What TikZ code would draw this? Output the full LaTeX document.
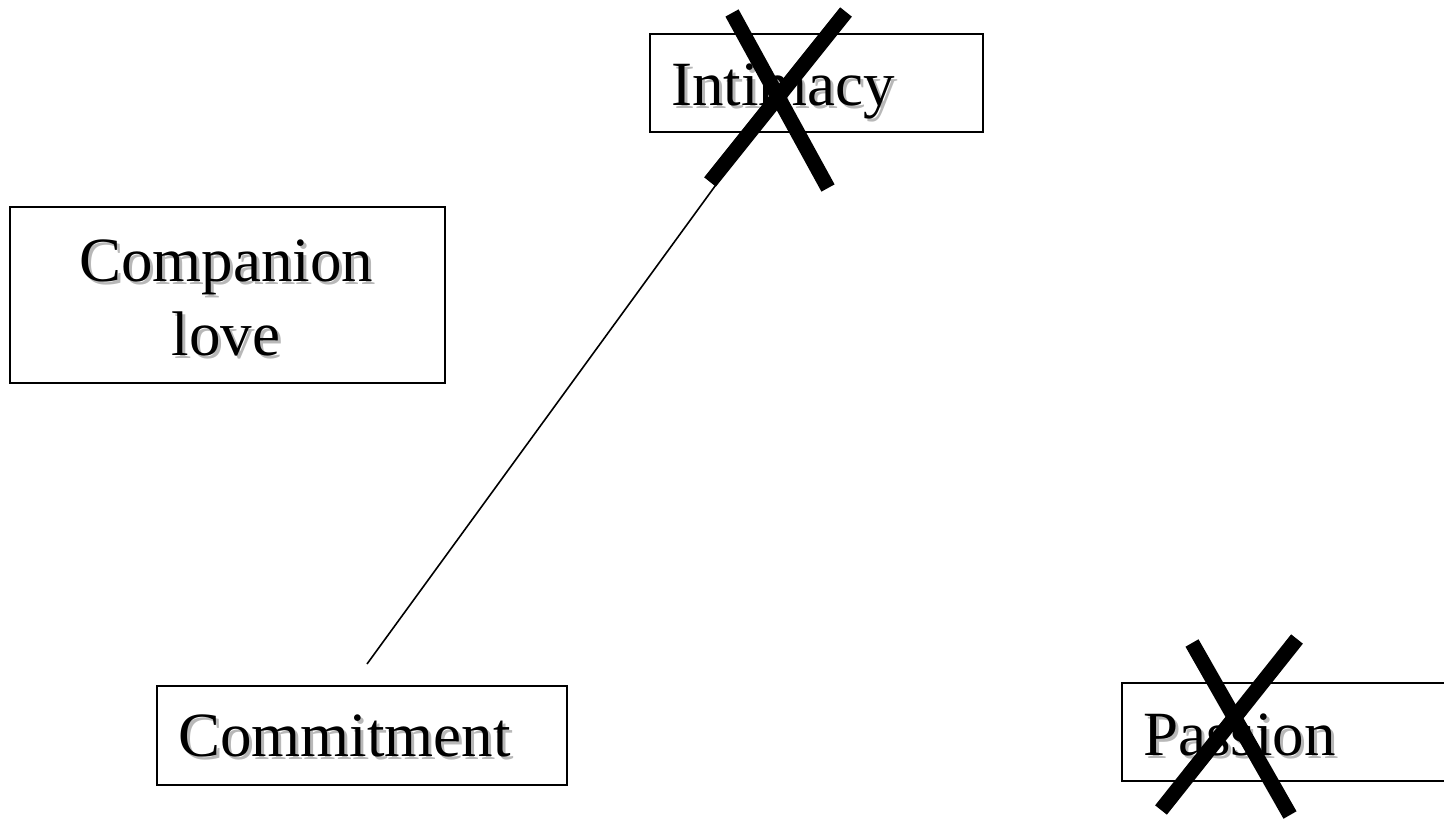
\documentclass[tikz,border=0pt]{standalone}
\usepackage{fontspec}
\setmainfont{Liberation Serif}
\newcommand\shadowed[1]{\leavevmode\rlap{\kern3pt\raisebox{-3pt}{\color{black!28}#1}}#1}
\begin{document}
\begin{tikzpicture}[x=1pt,y=-1pt,
  conceptbox/.style={draw,line width=1.8pt,inner sep=0pt,anchor=north west},
  label/.style={anchor=base west,inner sep=0pt,font=\fontsize{63}{73}\selectfont},
  cross/.style={line width=15pt},
  link/.style={line width=1.6pt}]
\useasboundingbox (0,0) rectangle (1444,822);

% boxes
\node[conceptbox,minimum width=333pt,minimum height=98pt] (intimacy) at (649,33) {};
\node[conceptbox,minimum width=435pt,minimum height=176pt] (companion) at (9,206) {};
\node[conceptbox,minimum width=410pt,minimum height=99pt] (commitment) at (156,685) {};
\node[conceptbox,minimum width=330pt,minimum height=98pt] (passion) at (1121,682) {};

% labels
\node[label] (intimacyText) at (671,105) {\shadowed{Intimacy}};
\node[label,anchor=base] (companionText) at (226,281) {\shadowed{Companion}};
\node[label,anchor=base] (loveText) at (226,355) {\shadowed{love}};
\node[label] (commitmentText) at (178,756) {\shadowed{Commitment}};
\node[label] (passionText) at (1143,755) {\shadowed{Passion}};

% link between commitment and intimacy
\coordinate (linkLow) at (367,664);
\coordinate (linkHigh) at (718,182);
\draw[link] (linkLow) -- (linkHigh);

% crosses
\coordinate (ia) at (732,13);
\coordinate (ib) at (828,188);
\coordinate (ic) at (846,12);
\coordinate (id) at (710,182);
\draw[cross] (ia) -- (ib);
\draw[cross] (ic) -- (id);

\coordinate (pa) at (1192,643);
\coordinate (pb) at (1290,815);
\coordinate (pc) at (1297,639);
\coordinate (pd) at (1161,810);
\draw[cross] (pa) -- (pb);
\draw[cross] (pc) -- (pd);
\end{tikzpicture}
\end{document}
